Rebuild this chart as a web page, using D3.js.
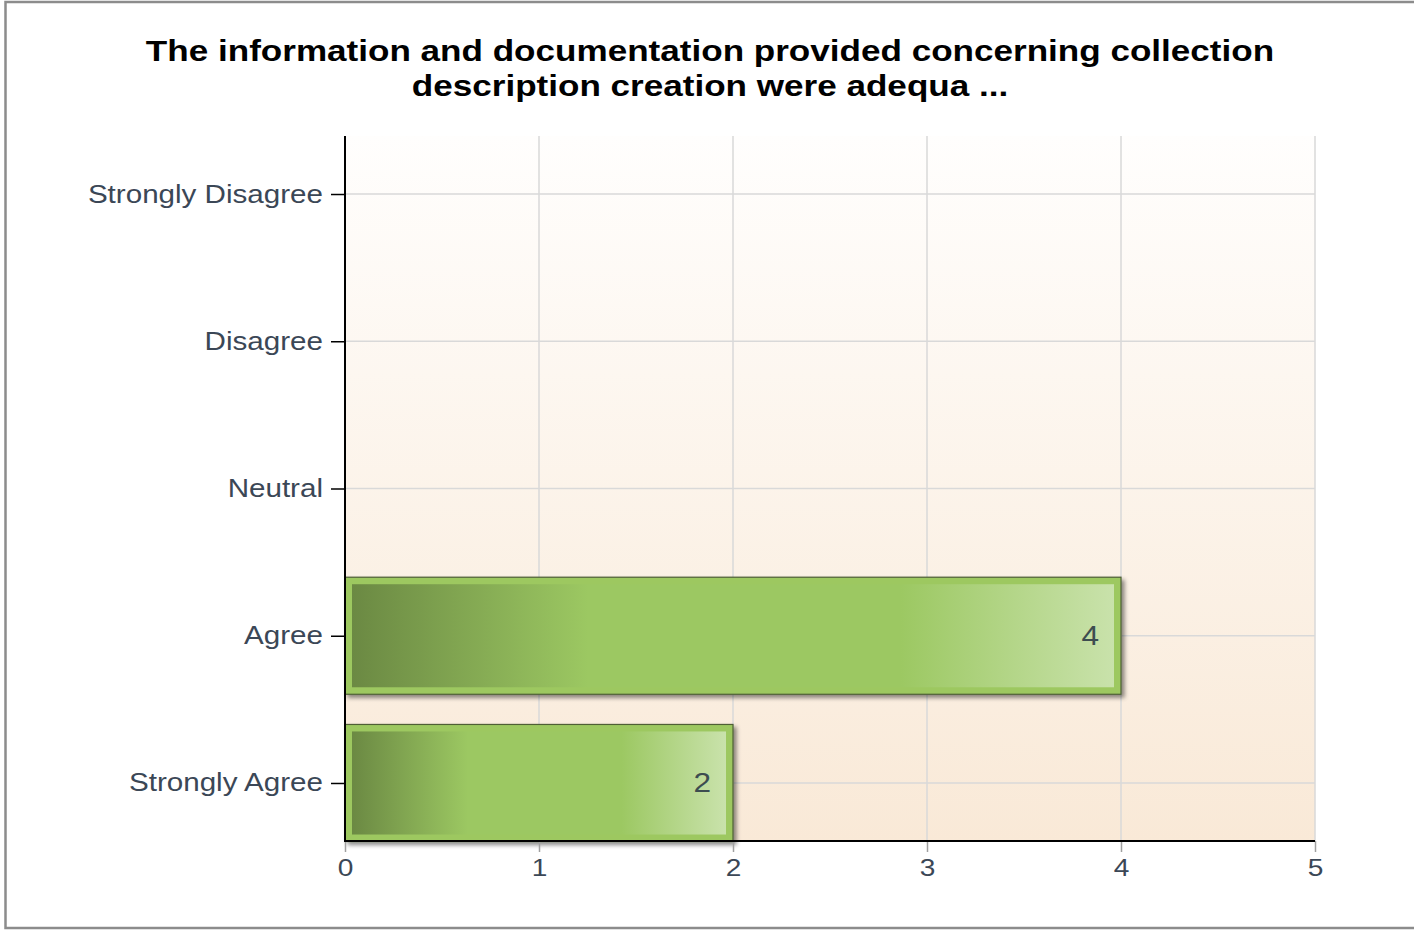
<!DOCTYPE html>
<html>
<head>
<meta charset="utf-8">
<script src="https://cdn.jsdelivr.net/npm/d3@7"></script>
<style>
  html, body { margin: 0; padding: 0; background: #fff; }
  svg { display: block; }
</style>
</head>
<body>
<svg id="chart" width="1414" height="930"></svg>
<script>
const titleLines = ["The information and documentation provided concerning collection", "description creation were adequa ..."];
const categories = ["Strongly Disagree", "Disagree", "Neutral", "Agree", "Strongly Agree"];
const values = [0, 0, 0, 4, 2];
const xTicks = [0, 1, 2, 3, 4, 5];

const svg = d3.select("#chart");
const W = 1414, H = 930;
const plot = { left: 345, right: 1315, top: 136, bottom: 841 };
const SX = 1.17; // horizontal text stretch seen in the reference

const defs = svg.append("defs");
const bg = defs.append("linearGradient").attr("id", "bgGrad").attr("x1", 0).attr("y1", 0).attr("x2", 0).attr("y2", 1);
bg.append("stop").attr("offset", 0).attr("stop-color", "#fffefd");
bg.append("stop").attr("offset", 1).attr("stop-color", "#f9e9d7");

const barGrad = defs.append("linearGradient").attr("id", "barGrad").attr("x1", 0).attr("y1", 0).attr("x2", 1).attr("y2", 0);
[[0, "#6b8943"], [0.31, "#9cc862"], [0.72, "#9cc862"], [1, "#c9e2ab"]].forEach(([o, c]) =>
  barGrad.append("stop").attr("offset", o).attr("stop-color", c));

const shadow = defs.append("filter").attr("id", "shadow").attr("x", "-5%").attr("y", "-10%").attr("width", "115%").attr("height", "130%");
shadow.append("feDropShadow").attr("dx", 3).attr("dy", 3).attr("stdDeviation", 2).attr("flood-color", "#000").attr("flood-opacity", 0.45);

// outer frame
svg.append("rect").attr("x", 5.5).attr("y", 2).attr("width", W + 20).attr("height", 926)
  .attr("fill", "#fff").attr("stroke", "#8c8c8c").attr("stroke-width", 2.5);

// title
const title = svg.append("g");
titleLines.forEach((t, i) => {
  title.append("text")
    .attr("transform", `translate(710,${61 + i * 35}) scale(${SX},1)`)
    .attr("text-anchor", "middle")
    .attr("font-family", "'Liberation Sans', Arial, sans-serif")
    .attr("font-weight", "bold")
    .attr("font-size", 30)
    .attr("fill", "#000")
    .text(t);
});

const x = d3.scaleLinear().domain([0, 5]).range([plot.left, plot.right]);
const y = d3.scalePoint().domain(categories).range([plot.top, plot.bottom]).padding(0.394);
const barH = y.step() * 0.795;

// background
svg.append("rect").attr("x", plot.left).attr("y", plot.top)
  .attr("width", plot.right - plot.left).attr("height", plot.bottom - plot.top)
  .attr("fill", "url(#bgGrad)");

// grid
svg.append("g").selectAll("line").data(xTicks).join("line")
  .attr("x1", d => x(d)).attr("x2", d => x(d))
  .attr("y1", plot.top).attr("y2", plot.bottom)
  .attr("stroke", "#d9d9d9").attr("stroke-width", 1.5);
svg.append("g").selectAll("line").data(categories).join("line")
  .attr("x1", plot.left).attr("x2", plot.right)
  .attr("y1", d => y(d)).attr("y2", d => y(d))
  .attr("stroke", "#d9d9d9").attr("stroke-width", 1.5);

// bars
const bars = svg.append("g").selectAll("g").data(categories.map((c, i) => ({ c, v: values[i] })).filter(d => d.v > 0)).join("g");
bars.append("rect")
  .attr("x", x(0)).attr("y", d => y(d.c) - barH / 2)
  .attr("width", d => x(d.v) - x(0)).attr("height", barH)
  .attr("fill", "#9dc860").attr("stroke", "#4f5f35").attr("stroke-width", 1.2)
  .attr("filter", "url(#shadow)");
bars.append("rect")
  .attr("x", x(0) + 7).attr("y", d => y(d.c) - barH / 2 + 7)
  .attr("width", d => x(d.v) - x(0) - 14).attr("height", barH - 14)
  .attr("fill", "url(#barGrad)");
bars.append("text")
  .attr("transform", d => `translate(${x(d.v) - 22},${y(d.c) + 9}) scale(${SX},1)`)
  .attr("text-anchor", "end")
  .attr("font-family", "'Liberation Sans', Arial, sans-serif")
  .attr("font-size", 27)
  .attr("fill", "#3d4d50")
  .text(d => d.v);

// axes
const yAxis = svg.append("g").attr("transform", `translate(${plot.left},0)`)
  .call(d3.axisLeft(y).tickSize(14).tickPadding(8).tickSizeOuter(0));
yAxis.select(".domain").remove();
yAxis.selectAll(".tick line").attr("stroke", "#000").attr("stroke-width", 1.5);
yAxis.selectAll(".tick text").each(function () {
  const t = d3.select(this);
  const xx = +t.attr("x");
  t.attr("x", null).attr("dy", null)
    .attr("transform", `translate(${xx},8) scale(${SX},1)`);
})
  .attr("font-family", "'Liberation Sans', Arial, sans-serif")
  .attr("font-size", 25.3).attr("fill", "#3b4756");

svg.append("line").attr("x1", plot.left).attr("x2", plot.left)
  .attr("y1", plot.top).attr("y2", plot.bottom + 1).attr("stroke", "#000").attr("stroke-width", 2);

const xAxis = svg.append("g").attr("transform", `translate(0,${plot.bottom})`)
  .call(d3.axisBottom(x).tickValues(xTicks).tickFormat(d3.format("d")).tickSize(11).tickPadding(6).tickSizeOuter(0));
xAxis.select(".domain").remove();
xAxis.selectAll(".tick line").attr("stroke", "#a0a0a0").attr("stroke-width", 1.5);
xAxis.selectAll(".tick text").each(function () {
  const t = d3.select(this);
  t.attr("y", null).attr("dy", null).attr("transform", `translate(0,35) scale(${SX},1)`);
})
  .attr("font-family", "'Liberation Sans', Arial, sans-serif")
  .attr("font-size", 24).attr("fill", "#3b4756");

svg.append("line").attr("x1", plot.left - 1).attr("x2", plot.right)
  .attr("y1", plot.bottom).attr("y2", plot.bottom).attr("stroke", "#000").attr("stroke-width", 2);
</script>
</body>
</html>
